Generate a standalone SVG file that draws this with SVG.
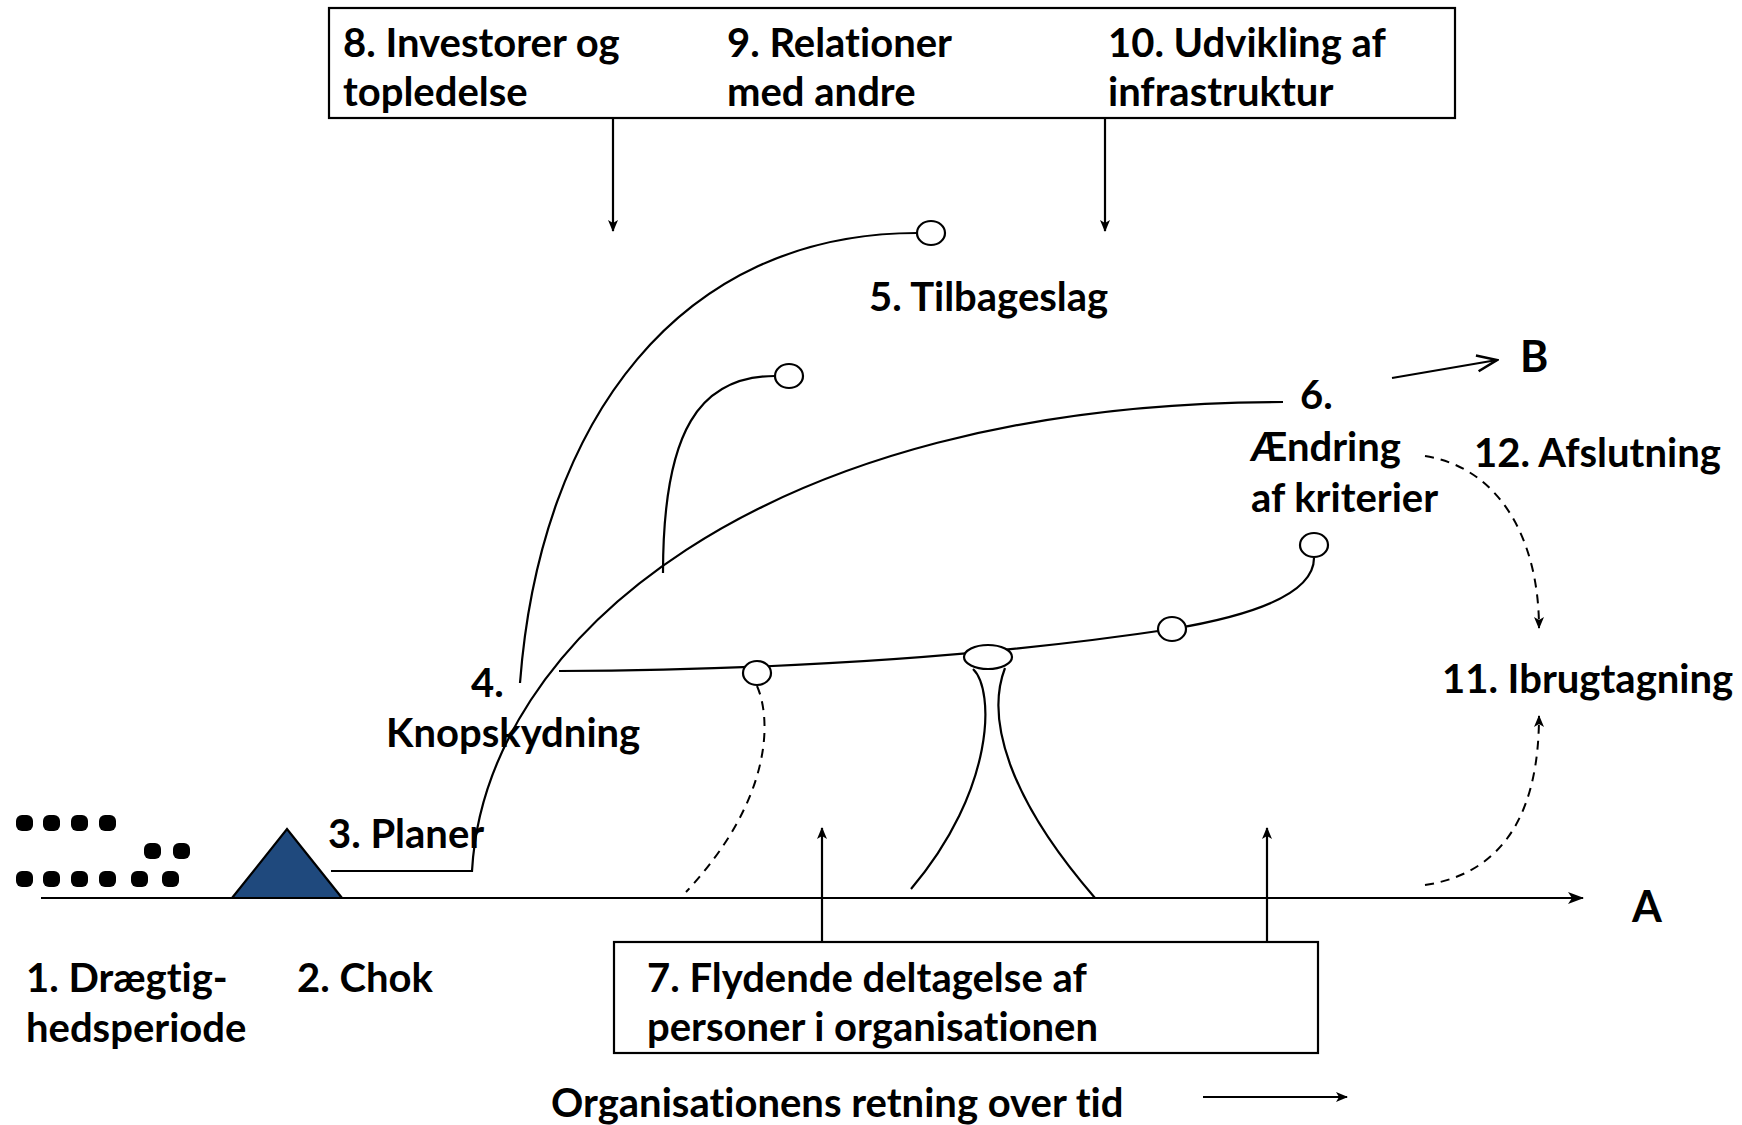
<svg xmlns="http://www.w3.org/2000/svg" width="1742" height="1125" viewBox="0 0 1742 1125">
<style>
text{font-family:Lato,"Open Sans","Liberation Sans",sans-serif;font-weight:bold;font-size:40px;fill:#000;font-variant-ligatures:none;font-feature-settings:"liga" 0}
.big{font-size:43px}
.ln{fill:none;stroke:#000;stroke-width:2.2}
.ds{fill:none;stroke:#000;stroke-width:2;stroke-dasharray:9 7}
.box{fill:#fff;stroke:#000;stroke-width:2.2}
.bud{fill:#fff;stroke:#000;stroke-width:2.2}
.dot{fill:#000}
</style>
<defs>
<marker id="ah" viewBox="0 0 12 10" refX="11" refY="5" markerWidth="12" markerHeight="10" markerUnits="userSpaceOnUse" orient="auto">
<path d="M0,0 L12,5 L0,10 L3,5 z" fill="#000"/>
</marker>
<marker id="ahl" viewBox="0 0 16 12" refX="15" refY="6" markerWidth="16" markerHeight="12" markerUnits="userSpaceOnUse" orient="auto">
<path d="M0,0 L16,6 L0,12 L4,6 z" fill="#000"/>
</marker>
<marker id="open" viewBox="0 0 24 20" refX="22" refY="10" markerWidth="24" markerHeight="20" markerUnits="userSpaceOnUse" orient="auto">
<path d="M2,2 L22,10 L2,18" fill="none" stroke="#000" stroke-width="2.6"/>
</marker>
</defs>

<g id="connectors">
<line class="ln" x1="41" y1="898" x2="1583" y2="898" marker-end="url(#ahl)" stroke-width="2.6"/>
<line class="ln" x1="613" y1="118" x2="613" y2="231" marker-end="url(#ah)"/>
<line class="ln" x1="1105" y1="118" x2="1105" y2="231" marker-end="url(#ah)"/>
<line class="ln" x1="822" y1="942" x2="822" y2="828" marker-end="url(#ah)"/>
<line class="ln" x1="1267" y1="942" x2="1267" y2="828" marker-end="url(#ah)"/>
<line class="ln" x1="1392" y1="378" x2="1497" y2="360" marker-end="url(#open)" stroke-width="2.6"/>
<line class="ln" x1="1203" y1="1097" x2="1347" y2="1097" marker-end="url(#ah)"/>
<path class="ln" d="M331,871 L472,871 C485,640 760,402 1283,402"/>
<path class="ln" d="M520,683 C540,420 680,233 917,233"/>
<path class="ln" d="M663,573 C663,430 700,376 775,376"/>
<path class="ln" d="M559,671 C800,670 1000,655 1172,629 C1250,616 1314,595 1314,558"/>
<path class="ds" d="M757,686 C772,720 772,800 686,892"/>
<path class="ln" d="M973,669 C995,690 995,790 911,889"/>
<path class="ln" d="M1005,668 C985,720 1010,800 1095,898"/>
<path class="ds" d="M1425,456 C1500,468 1539,540 1539,628" marker-end="url(#ah)"/>
<path class="ds" d="M1425,885 C1512,872 1539,800 1539,716" marker-end="url(#ah)"/>
</g>

<g id="n1-draegtighedsperiode">
<rect class="dot" x="16" y="815" width="17" height="16" rx="6"/>
<rect class="dot" x="43" y="815" width="17" height="16" rx="6"/>
<rect class="dot" x="71" y="815" width="17" height="16" rx="6"/>
<rect class="dot" x="99" y="815" width="17" height="16" rx="6"/>
<rect class="dot" x="144" y="843" width="17" height="16" rx="6"/>
<rect class="dot" x="173" y="843" width="17" height="16" rx="6"/>
<rect class="dot" x="16" y="871" width="17" height="16" rx="6"/>
<rect class="dot" x="43" y="871" width="17" height="16" rx="6"/>
<rect class="dot" x="71" y="871" width="17" height="16" rx="6"/>
<rect class="dot" x="99" y="871" width="17" height="16" rx="6"/>
<rect class="dot" x="131" y="871" width="17" height="16" rx="6"/>
<rect class="dot" x="162" y="871" width="17" height="16" rx="6"/>
<text x="26" y="992">1. Drægtig-</text>
<text x="26" y="1042">hedsperiode</text>
</g>

<g id="n2-chok">
<polygon points="232,898 287,829 342,898" fill="#1F497D" stroke="#000" stroke-width="2.2"/>
<text x="297" y="992">2. Chok</text>
</g>

<g id="n3-planer"><text x="328" y="848">3. Planer</text></g>
<g id="n4-knopskydning">
<text x="471" y="697">4.</text>
<text x="386" y="747">Knopskydning</text>
</g>

<g id="n5-tilbageslag">
<ellipse class="bud" cx="931" cy="233" rx="14" ry="12"/>
<ellipse class="bud" cx="789" cy="376" rx="14" ry="12"/>
<text x="869" y="311">5. Tilbageslag</text>
</g>

<g id="n6-aendring">
<text x="1300" y="409">6.</text>
<text x="1250" y="461">Ændring</text>
<text x="1251" y="512">af kriterier</text>
</g>

<g id="buds">
<ellipse class="bud" cx="757" cy="673" rx="14" ry="12"/>
<ellipse class="bud" cx="988" cy="657" rx="24" ry="12"/>
<ellipse class="bud" cx="1172" cy="629" rx="14" ry="12"/>
<ellipse class="bud" cx="1314" cy="545" rx="14" ry="12"/>
</g>

<g id="n7-flydende">
<rect class="box" x="614" y="942" width="704" height="111"/>
<text x="647" y="992">7. Flydende deltagelse af</text>
<text x="647" y="1041">personer i organisationen</text>
</g>

<g id="n8-10-top">
<rect class="box" x="329" y="8" width="1126" height="110"/>
<text x="343" y="57">8. Investorer og</text>
<text x="343" y="106">topledelse</text>
<text x="727" y="57">9. Relationer</text>
<text x="727" y="106">med andre</text>
<text x="1108" y="57">10. Udvikling af</text>
<text x="1108" y="106">infrastruktur</text>
</g>

<g id="n11-ibrugtagning"><text x="1442" y="693">11. Ibrugtagning</text></g>
<g id="n12-afslutning"><text x="1474" y="467">12. Afslutning</text></g>
<g id="labelA"><text class="big" x="1632" y="922">A</text></g>
<g id="labelB"><text class="big" x="1520" y="372">B</text></g>
<g id="footer"><text x="551" y="1117">Organisationens retning over tid</text></g>
</svg>
